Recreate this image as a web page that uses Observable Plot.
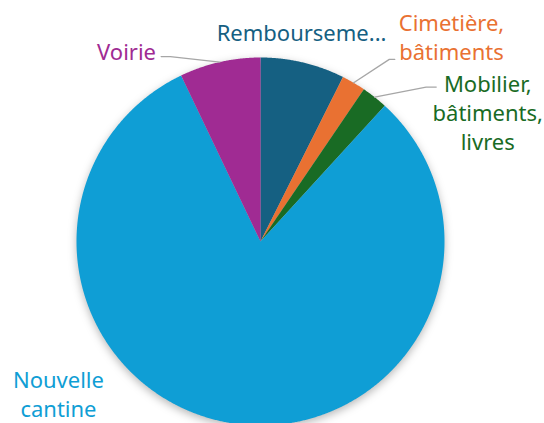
<!DOCTYPE html>
<html>
<head>
<meta charset="utf-8">
<script src="https://cdn.jsdelivr.net/npm/d3@7"></script>
<script src="https://cdn.jsdelivr.net/npm/@observablehq/plot@0.6"></script>
<style>
  html, body { margin: 0; padding: 0; background: #fff; }
  #chart svg { display: block; }
  #chart .slices { filter: drop-shadow(0px 3px 4px rgba(0,0,0,0.28)); }
</style>
</head>
<body>
<div id="chart"></div>
<script>
// ---- Data (% of total) ----
const categories = ["Remboursement", "Cimetière, bâtiments", "Mobilier, bâtiments, livres", "Nouvelle cantine", "Voirie"];
const labels = ["Rembourseme...", "Cimetière,\nbâtiments", "Mobilier,\nbâtiments,\nlivres", "Nouvelle\ncantine", "Voirie"];
const values = [7.4, 2.1, 2.3, 81.1, 7.1];
const colors = ["#156082", "#E97132", "#196B24", "#0F9ED5", "#A02B93"];

// ---- Layout (unit-circle coordinates for labels and leader lines) ----
const labelAnchor = [[0.223, 1.141], [1.038, 1.117], [1.235, 0.707], [-1.098, -0.823], [-0.728, 1.038]];
const leaderElbow = [null, [0.70, 0.990], [0.90, 0.839], null, [-0.49, 1.005]];
const leaderEnd   = [null, [0.73, 0.990], [0.955, 0.839], null, [-0.54, 1.005]];

const pie = d3.pie().sort(null).value(d => d)(values);

const slicePts = [];
pie.forEach((a, i) => {
  slicePts.push({k: i, x: 0, y: 0});
  const n = Math.max(2, Math.ceil((a.endAngle - a.startAngle) / 0.005));
  for (let j = 0; j <= n; j++) {
    const t = a.startAngle + (a.endAngle - a.startAngle) * j / n;
    slicePts.push({k: i, x: Math.sin(t), y: Math.cos(t)});
  }
});

const leaderPts = [];
pie.forEach((a, i) => {
  if (!leaderElbow[i]) return;
  const m = (a.startAngle + a.endAngle) / 2;
  leaderPts.push({k: i, x: Math.sin(m), y: Math.cos(m)});
  leaderPts.push({k: i, x: leaderElbow[i][0], y: leaderElbow[i][1]});
  leaderPts.push({k: i, x: leaderEnd[i][0], y: leaderEnd[i][1]});
});

const textData = labels.map((t, i) => ({t, k: i, x: labelAnchor[i][0], y: labelAnchor[i][1]}));

const cx = 260, cy = 241, R = 184;
const chart = Plot.plot({
  width: 544,
  height: 423,
  margin: 0,
  style: {fontFamily: "'Noto Sans', sans-serif", background: "#fff", overflow: "hidden"},
  x: {domain: [-1, 1], range: [cx - R, cx + R], axis: null},
  y: {domain: [-1, 1], range: [cy + R, cy - R], axis: null},
  marks: [
    Plot.line(slicePts, {x: "x", y: "y", z: "k", fill: d => colors[d.k], stroke: "none", curve: "linear", className: "slices"}),
    Plot.line(leaderPts, {x: "x", y: "y", z: "k", stroke: "#a6a6a6", strokeWidth: 1.3}),
    Plot.text(textData, {x: "x", y: "y", text: "t", fill: d => colors[d.k], fontSize: 22, lineHeight: 1.32, textAnchor: "middle"})
  ]
});
document.getElementById("chart").appendChild(chart);
</script>
</body>
</html>
